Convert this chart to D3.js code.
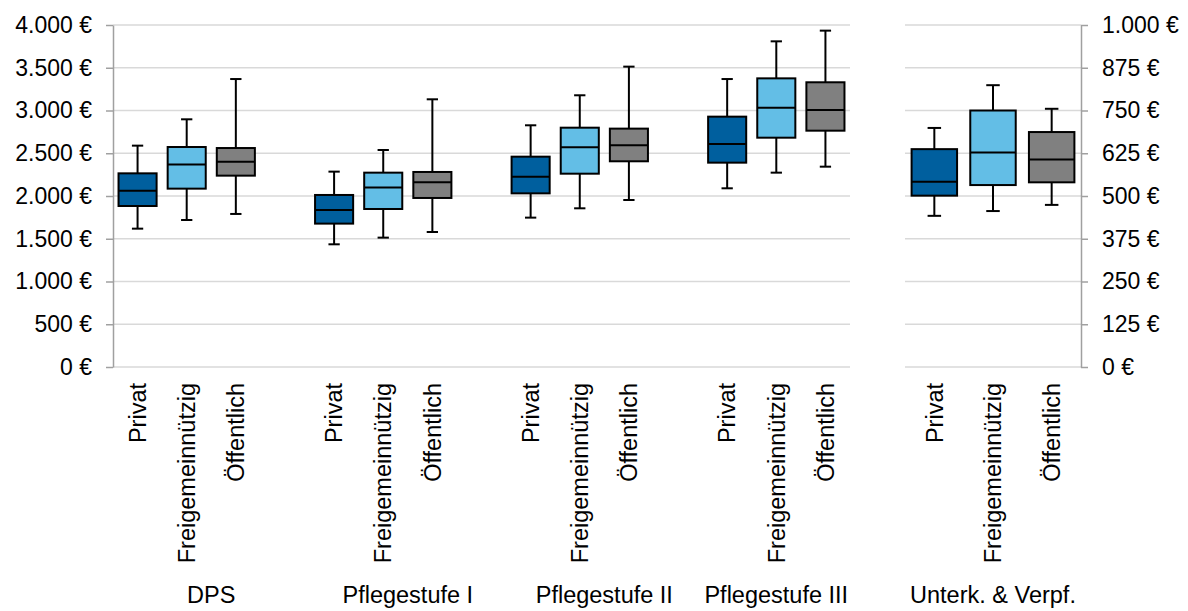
<!DOCTYPE html>
<html>
<head>
<meta charset="utf-8">
<script src="https://cdn.jsdelivr.net/npm/d3@7"></script>
<style>
  html, body { margin: 0; padding: 0; background: #fff; }
  text { font-family: "Liberation Sans", Arial, sans-serif; fill: #000; }
</style>
</head>
<body>
<svg id="chart" width="1188" height="611"></svg>
<script>
// ---------- data ----------
const leftGroups = ["DPS", "Pflegestufe I", "Pflegestufe II", "Pflegestufe III"];
const rightGroup = "Unterk. & Verpf.";
const types = ["Privat", "Freigemeinnützig", "Öffentlich"];
const typeColors = ["#005f9e", "#63bee6", "#808080"];
const leftTicks = [0, 500, 1000, 1500, 2000, 2500, 3000, 3500, 4000];
const rightTicks = [0, 125, 250, 375, 500, 625, 750, 875, 1000];

// per group (DPS, PS I, PS II, PS III, Unterk. & Verpf.), per type (Privat, Freigemeinnützig, Öffentlich)
const whiskerLow  = [[1618, 1719, 1790], [1435, 1513, 1579], [1747, 1856, 1953], [2090, 2273, 2343], [442, 456, 474]];
const quartile1   = [[1883, 2086, 2238], [1677, 1848, 1977], [2031, 2261, 2406], [2390, 2682, 2764], [501, 532, 540]];
const medians     = [[2062, 2367, 2402], [1836, 2098, 2160], [2226, 2569, 2593], [2608, 3033, 3006], [542, 627, 607]];
const quartile3   = [[2265, 2573, 2561], [2012, 2273, 2281], [2460, 2799, 2788], [2928, 3376, 3330], [637, 750, 687]];
const whiskerHigh = [[2589, 2897, 3368], [2285, 2538, 3131], [2827, 3178, 3513], [3368, 3809, 3934], [699, 824, 755]];

(function () {
// ---------- layout ----------
const svg = d3.select("#chart");
const plotTop = 25, plotBottom = 367;
const leftX0 = 113, leftX1 = 850, rightX0 = 905, rightX1 = 1081;
const tickFont = 23, labelFont = 23.5;

const locale = d3.formatLocale({decimal: ",", thousands: ".", grouping: [3], currency: ["", " €"]});
const fmt = v => locale.format(",")(v) + " €";

const yL = d3.scaleLinear().domain([0, 4000]).range([plotBottom, plotTop]);
const yR = d3.scaleLinear().domain([0, 1000]).range([plotBottom, plotTop]);

// slots for the left panel: each group gets its 3 types plus a trailing blank slot (except the last)
const leftSlots = [];
leftGroups.forEach((g, gi) => {
  types.forEach((t, ti) => leftSlots.push({key: g + "|" + t, group: g, gi, type: t, ti}));
  if (gi < leftGroups.length - 1) leftSlots.push({key: g + "|gap", group: g, gi, gap: true});
});
const xL = d3.scaleBand().domain(leftSlots.map(d => d.key)).range([leftX0, leftX1]);
const rightSlots = types.map((t, ti) => ({key: rightGroup + "|" + t, group: rightGroup, gi: 4, type: t, ti}));
const xR = d3.scaleBand().domain(rightSlots.map(d => d.key)).range([rightX0, rightX1]);

// gridlines
function grid(yScale, ticks, x0, x1) {
  svg.append("g").selectAll("line").data(ticks).join("line")
    .attr("x1", x0).attr("x2", x1)
    .attr("y1", d => yScale(d)).attr("y2", d => yScale(d))
    .attr("stroke", "#d9d9d9").attr("stroke-width", 1.5);
}
grid(yL, leftTicks, leftX0, leftX1);
grid(yR, rightTicks, rightX0, rightX1);

// axes
const axL = svg.append("g").attr("transform", `translate(${leftX0},0)`)
  .call(d3.axisLeft(yL).tickValues(leftTicks).tickSize(7).tickSizeOuter(0).tickPadding(14).tickFormat(fmt));
const axR = svg.append("g").attr("transform", `translate(${rightX1},0)`)
  .call(d3.axisRight(yR).tickValues(rightTicks).tickSize(7).tickSizeOuter(0).tickPadding(14).tickFormat(fmt));
[axL, axR].forEach(ax => {
  ax.select(".domain").attr("stroke", "#a0a0a0").attr("stroke-width", 1.5);
  ax.selectAll(".tick line").attr("stroke", "#a0a0a0").attr("stroke-width", 1.5);
  ax.selectAll(".tick text").attr("font-size", tickFont).attr("fill", "#000")
    .style("font-family", '"Liberation Sans", Arial, sans-serif');
});

// boxes
function drawBoxes(slots, xScale, yScale) {
  const bw = xScale.bandwidth() * 0.775;
  const cap = xScale.bandwidth() * 0.23;
  const g = svg.append("g").selectAll("g").data(slots.filter(d => !d.gap)).join("g")
    .attr("transform", d => `translate(${xScale(d.key) + xScale.bandwidth() / 2},0)`);
  const val = (arr, d) => yScale(arr[d.gi][d.ti]);
  // whiskers
  g.append("line").attr("x1", 0).attr("x2", 0)
    .attr("y1", d => val(whiskerHigh, d)).attr("y2", d => val(quartile3, d))
    .attr("stroke", "#000").attr("stroke-width", 2);
  g.append("line").attr("x1", 0).attr("x2", 0)
    .attr("y1", d => val(quartile1, d)).attr("y2", d => val(whiskerLow, d))
    .attr("stroke", "#000").attr("stroke-width", 2);
  g.append("line").attr("x1", -cap / 2).attr("x2", cap / 2)
    .attr("y1", d => val(whiskerHigh, d)).attr("y2", d => val(whiskerHigh, d))
    .attr("stroke", "#000").attr("stroke-width", 2);
  g.append("line").attr("x1", -cap / 2).attr("x2", cap / 2)
    .attr("y1", d => val(whiskerLow, d)).attr("y2", d => val(whiskerLow, d))
    .attr("stroke", "#000").attr("stroke-width", 2);
  // box
  g.append("rect").attr("x", -bw / 2).attr("width", bw)
    .attr("y", d => val(quartile3, d))
    .attr("height", d => val(quartile1, d) - val(quartile3, d))
    .attr("fill", d => typeColors[d.ti]).attr("stroke", "#000").attr("stroke-width", 2);
  // median
  g.append("line").attr("x1", -bw / 2).attr("x2", bw / 2)
    .attr("y1", d => val(medians, d)).attr("y2", d => val(medians, d))
    .attr("stroke", "#000").attr("stroke-width", 2);
  // category labels
  svg.append("g").selectAll("text").data(slots.filter(d => !d.gap)).join("text")
    .attr("transform", d => `translate(${xScale(d.key) + xScale.bandwidth() / 2},383) rotate(-90)`)
    .attr("text-anchor", "end").attr("dy", "0.35em").attr("font-size", labelFont)
    .text(d => d.type);
}
drawBoxes(leftSlots, xL, yL);
drawBoxes(rightSlots, xR, yR);

// group labels centred on each group's slot span
function groupLabels(slots, xScale, names) {
  names.forEach(name => {
    const s = slots.filter(d => d.group === name);
    const x0 = xScale(s[0].key), x1 = xScale(s[s.length - 1].key) + xScale.bandwidth();
    svg.append("text").attr("x", (x0 + x1) / 2).attr("y", 603)
      .attr("text-anchor", "middle").attr("font-size", labelFont).text(name);
  });
}
groupLabels(leftSlots, xL, leftGroups);
groupLabels(rightSlots, xR, [rightGroup]);
})();
</script>
</body>
</html>
